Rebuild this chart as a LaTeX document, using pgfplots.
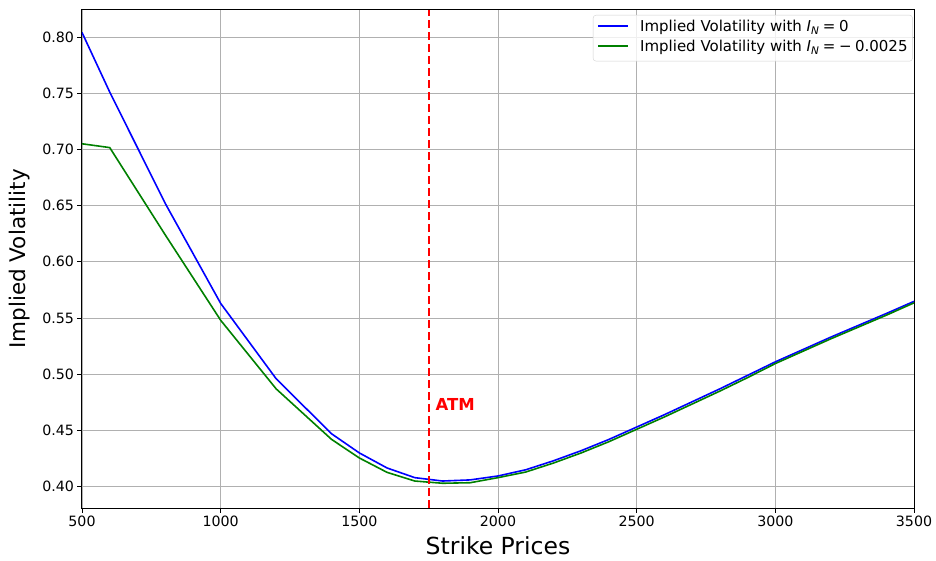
\documentclass[border=0pt]{standalone}
\usepackage{pgfplots}
\pgfplotsset{compat=1.18}
\usepackage{fontspec}
\setmainfont{DejaVu Sans}
\definecolor{mplgreen}{RGB}{0,128,0}
\definecolor{gridgray}{RGB}{176,176,176}
\newcommand{\legline}[1]{\textcolor{#1}{\rule[0.32em]{30pt}{1.6pt}}}
\begin{document}
\begin{tikzpicture}
\useasboundingbox (-82pt,-52pt) rectangle (854pt,508pt);
\begin{axis}[
  at={(0,0)}, anchor=south west,
  scale only axis, width=832pt, height=498pt,
  xmin=500, xmax=3500, ymin=0.381, ymax=0.824,
  xtick={500,1000,...,3500},
  ytick={0.40,0.45,...,0.81},
  /pgf/number format/assume math mode=true,
  xticklabel style={/pgf/number format/1000 sep={}, font=\fontsize{14.2}{17}\selectfont},
  yticklabel style={/pgf/number format/.cd, fixed, fixed zerofill, precision=2, /tikz/.cd, font=\fontsize{14.2}{17}\selectfont},
  tick align=outside, major tick length=4.5pt,
  tick style={black, line width=0.8pt},
  xtick pos=bottom, ytick pos=left,
  grid=major, major grid style={gridgray, line width=0.9pt},
  axis line style={black, line width=1pt},
  xlabel={Strike Prices}, ylabel={Implied Volatility},
  xlabel style={font=\fontsize{23.5}{27}\selectfont, at={(axis description cs:0.5,-0.0924)}, anchor=base},
  ylabel style={font=\fontsize{21.5}{25}\selectfont, at={(axis description cs:-0.0745,0.5)}, anchor=center},
]
\addplot[blue, line width=1.6pt] coordinates {
(500,0.804) (600,0.751) (800,0.652) (1000,0.563) (1200,0.496) (1400,0.447)
(1500,0.430) (1600,0.4166) (1700,0.408) (1800,0.405) (1900,0.406) (2000,0.4095)
(2100,0.415) (2200,0.423) (2300,0.432) (2400,0.442) (2500,0.453) (2600,0.464)
(2700,0.4755) (2800,0.487) (2900,0.499) (3000,0.511) (3100,0.522) (3200,0.533)
(3300,0.5435) (3400,0.554) (3500,0.5648)
};
\addplot[mplgreen, line width=1.6pt] coordinates {
(500,0.705) (600,0.7016) (800,0.624) (1000,0.548) (1200,0.487) (1400,0.442)
(1500,0.4255) (1600,0.4127) (1700,0.405) (1800,0.403) (1900,0.4035) (2000,0.408)
(2100,0.413) (2200,0.421) (2300,0.430) (2400,0.440) (2500,0.451) (2600,0.462)
(2700,0.4735) (2800,0.485) (2900,0.497) (3000,0.5095) (3100,0.5205) (3200,0.5315)
(3300,0.542) (3400,0.5525) (3500,0.5635)
};
\draw[red, line width=2.2pt, dash pattern=on 8pt off 4pt] (axis cs:1750,0.381) -- (axis cs:1750,0.824);
\node[red, anchor=west, font=\bfseries\fontsize{16.5}{19}\selectfont] at (axis cs:1762,0.4735) {ATM};
\node[anchor=north east, draw=gray!35, fill=white, fill opacity=0.8, text opacity=1, rounded corners=3pt,
  inner xsep=5pt, inner ysep=4pt, font=\fontsize{15}{18}\selectfont]
  at (rel axis cs:0.9985,0.99) {%
  \begin{tabular}{@{}l@{\hspace{12pt}}l@{}}
  \legline{blue} & Implied Volatility with \textit{I}\textsubscript{\textit{N}}\kern3.5pt=\kern3.5pt0\\[2pt]
  \legline{mplgreen} & Implied Volatility with \textit{I}\textsubscript{\textit{N}}\kern3.5pt=\kern3.5pt−\kern3.5pt0.0025
  \end{tabular}};
\end{axis}
\end{tikzpicture}
\end{document}
